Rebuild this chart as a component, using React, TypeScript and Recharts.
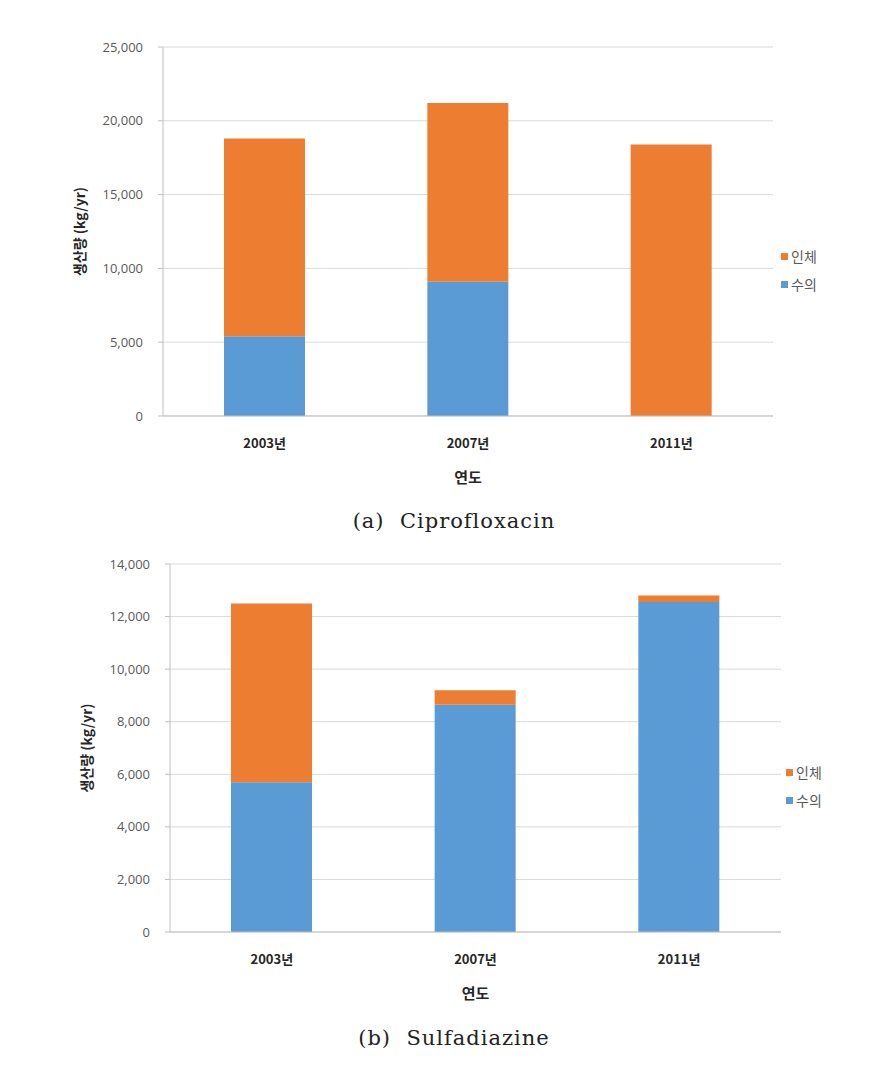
import { Bar, BarChart, CartesianGrid, Label, XAxis, YAxis } from "recharts"

const years = ["2003년", "2007년", "2011년"]
const seriesNames = ["인체", "수의"]
const seriesColors = ["#ED7D31", "#5B9BD5"]

const ciproVet = [5400, 9100, 0]
const ciproHuman = [13400, 12100, 18400]
const ciproTicks = [0, 5000, 10000, 15000, 20000, 25000]

const sulfaVet = [5700, 8650, 12550]
const sulfaHuman = [6800, 550, 250]
const sulfaTicks = [0, 2000, 4000, 6000, 8000, 10000, 12000, 14000]

const yLabel = "생산량 (kg/yr)"
const xLabel = "연도"

const font = "'Noto Sans CJK KR', 'Open Sans', sans-serif"
const numFont = "'Open Sans', sans-serif"

const build = (human: number[], vet: number[]) =>
  years.map((y, i) => ({ name: y, human: human[i], vet: vet[i] }))

type PanelProps = {
  top: number
  height: number
  margin: { top: number; right: number; bottom: number; left: number }
  yWidth: number
  human: number[]
  vet: number[]
  ticks: number[]
  legendLeft: number
  legendTop: number
  caption: string
  captionTop: number
}

function Panel(p: PanelProps) {
  const data = build(p.human, p.vet)
  const max = p.ticks[p.ticks.length - 1]
  return (
    <div style={{ position: "absolute", left: 0, top: p.top, width: 873, height: p.height }}>
      <BarChart width={873} height={p.height} data={data} margin={p.margin} barSize={81}>
        <CartesianGrid vertical={false} stroke="#d9d9d9" />
        <XAxis
          dataKey="name"
          height={70}
          stroke="#bfbfbf"
          tickLine={false}
          tickMargin={17}
          tick={{ fill: "#262626", fontSize: 13, fontWeight: 700, fontFamily: font }}
        >
          <Label
            value={xLabel}
            position="insideBottom"
            offset={3}
            style={{ fill: "#262626", fontSize: 15, fontWeight: 700, fontFamily: font }}
          />
        </XAxis>
        <YAxis
          width={p.yWidth}
          domain={[0, max]}
          ticks={p.ticks}
          stroke="#bfbfbf"
          tickSize={5}
          tickMargin={15}
          tickFormatter={(v: number) => v.toLocaleString("en-US")}
          tick={{ fill: "#595959", fontSize: 13, fontFamily: numFont }}
        >
          <Label
            value={yLabel}
            angle={-90}
            position="insideLeft"
            offset={p.yWidth - 83}
            style={{ textAnchor: "middle", fill: "#262626", fontSize: 14, fontWeight: 700, fontFamily: font }}
          />
        </YAxis>
        <Bar dataKey="vet" stackId="a" fill={seriesColors[1]} isAnimationActive={false} />
        <Bar dataKey="human" stackId="a" fill={seriesColors[0]} isAnimationActive={false} />
      </BarChart>
      <div style={{ position: "absolute", left: p.legendLeft, top: p.legendTop - p.top, fontFamily: font, fontSize: 14, color: "#595959" }}>
        {seriesNames.map((n, i) => (
          <div key={n} style={{ display: "flex", alignItems: "center", height: 28 }}>
            <span style={{ width: 7, height: 7, background: seriesColors[i], marginRight: 3 }} />
            {n}
          </div>
        ))}
      </div>
      <div
        style={{
          position: "absolute",
          left: 0,
          width: 908,
          top: p.captionTop - p.top,
          textAlign: "center",
          whiteSpace: "pre",
          fontFamily: "'DejaVu Serif', serif",
          fontSize: 21,
          letterSpacing: 1,
          color: "#222",
        }}
      >
        {p.caption}
      </div>
    </div>
  )
}

export default function App() {
  return (
    <div style={{ position: "absolute", left: 0, top: 0, width: 873, height: 1066, background: "#fff" }}>
      <Panel
        top={0}
        height={500}
        margin={{ top: 47, right: 100, bottom: 14, left: 0 }}
        yWidth={163}
        human={ciproHuman}
        vet={ciproVet}
        ticks={ciproTicks}
        legendLeft={781}
        legendTop={242}
        caption="(a)  Ciprofloxacin"
        captionTop={509}
      />
      <Panel
        top={500}
        height={566}
        margin={{ top: 64, right: 92, bottom: 64, left: 0 }}
        yWidth={170}
        human={sulfaHuman}
        vet={sulfaVet}
        ticks={sulfaTicks}
        legendLeft={786}
        legendTop={758}
        caption="(b)  Sulfadiazine"
        captionTop={1026}
      />
    </div>
  )
}
